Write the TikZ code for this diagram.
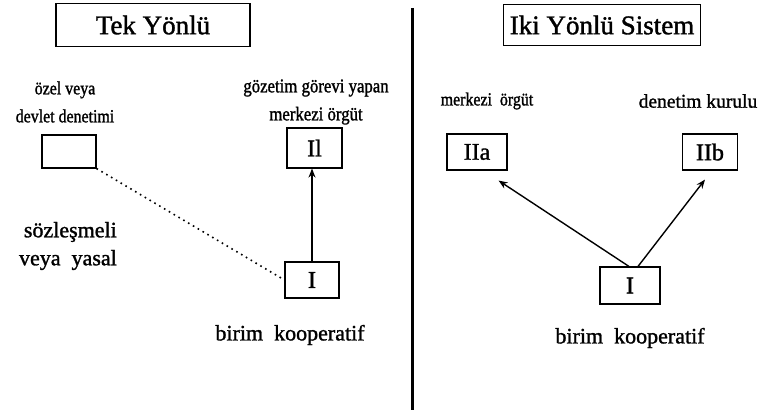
\documentclass[tikz,border=0pt]{standalone}
\usepackage{fontspec}
\setmainfont{Liberation Serif}[FakeBold=1.3]
\newfontfamily\narrowserif{Liberation Serif}[FakeBold=1.3, FakeStretch=0.86]
\usepackage{tikz}
\usetikzlibrary{arrows.meta}

\begin{document}
\begin{tikzpicture}[>={Stealth[length=9pt,width=7pt]}, x=1pt, y=-1pt,
    titlebox/.style={draw, line width=1.1pt, font=\fontsize{27}{30}\selectfont, inner sep=0pt},
    unitbox/.style={draw, line width=1.1pt, font=\fontsize{24}{26}\selectfont, inner sep=0pt},
    lbl/.style={font=\narrowserif\fontsize{19.5}{28}\selectfont, align=center, inner sep=0pt},
    lbls/.style={font=\narrowserif\fontsize{18.5}{28}\selectfont, align=center, inner sep=0pt},
    lblb/.style={font=\fontsize{22}{28}\selectfont, align=center, inner sep=0pt},
    link/.style={->, line width=1.4pt},
]
    \useasboundingbox (0,0) rectangle (763,414);
    % left half
    \node[titlebox, minimum width=194pt, minimum height=43pt] (tek) at (153,25) {Tek Yönlü};
    \node[lbls] (ozel) at (65,102) {özel veya\\devlet denetimi};
    \node[lbl] (gozetim) at (316,102) {gözetim görevi yapan\\merkezi örgüt};
    \node[unitbox, minimum width=54pt, minimum height=33pt] (devlet) at (69,151.5) {};
    \node[unitbox, minimum width=55pt, minimum height=40pt] (merkez) at (314.5,148) {Il};
    \node[unitbox, minimum width=54pt, minimum height=36pt] (birim) at (312,280) {I};
    \node[lblb, anchor=east, align=right] (sozles) at (117,246) {sözleşmeli\\veya\ \ yasal};
    \node[lblb] (koop) at (290,335) {birim\ \ kooperatif};
    \draw[link] (birim.north) -- (birim.north |- merkez.south);
    \draw[line width=1.6pt, dash pattern=on 1.6pt off 4pt] (devlet.south east) -- (birim.west);
    % divider
    \draw[line width=3pt] (412,8) -- (412,410);
    % right half
    \node[titlebox, minimum width=197pt, minimum height=41pt] (iki) at (602,25) {Iki Yönlü Sistem};
    \node[lbls] (merkezi) at (487,101) {merkezi\ \ örgüt};
    \node[lbl, font=\fontsize{19.5}{28}\selectfont] (kurul) at (698,101) {denetim kurulu};
    \node[unitbox, minimum width=60pt, minimum height=36pt] (iia) at (477,152) {IIa};
    \node[unitbox, minimum width=55pt, minimum height=36pt] (iib) at (710,152) {IIb};
    \node[unitbox, minimum width=60pt, minimum height=37pt] (birim2) at (630,285.5) {I};
    \node[lblb] (koop2) at (630,338) {birim\ \ kooperatif};
    \draw[link] ([xshift=-1pt]birim2.north) -- ([xshift=-9pt,yshift=-10pt]iia.south east);
    \draw[link] ([xshift=8pt]birim2.north) -- ([xshift=-5pt,yshift=-9pt]iib.south);
\end{tikzpicture}
\end{document}
